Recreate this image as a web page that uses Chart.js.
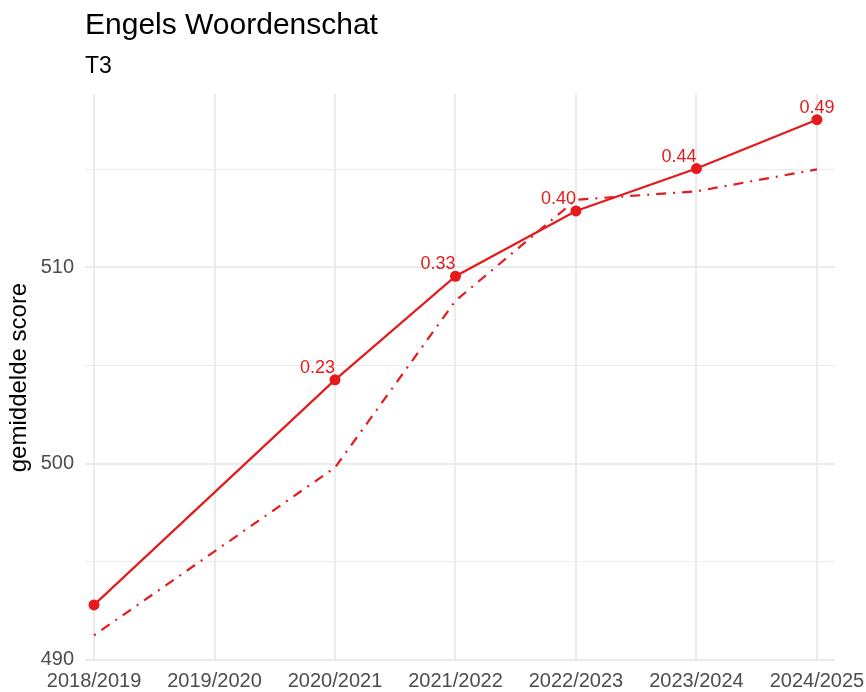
<!DOCTYPE html>
<html lang="nl">
<head>
<meta charset="utf-8">
<title>Engels Woordenschat</title>
<script src="https://cdn.jsdelivr.net/npm/chart.js@4"></script>
<style>
  html, body { margin: 0; padding: 0; background: #fff; }
  #wrap { position: relative; width: 866px; height: 692px; }
</style>
</head>
<body>
<div id="wrap"><canvas id="chart"></canvas></div>
<script>
const seasons = ["2018/2019", "2019/2020", "2020/2021", "2021/2022", "2022/2023", "2023/2024", "2024/2025"];
// gemiddelde score T3 (geen meting in 2019/2020)
const scoreT3 = [492.8, null, 504.27, 509.55, 512.88, 515.04, 517.53];
// referentielijn (streep-punt)
const referenceT3 = [491.25, null, 499.8, 508.3, 513.45, 513.88, 515.0];
const effectLabels = [null, null, "0.23", "0.33", "0.40", "0.44", "0.49"];
const yMajorTicks = [490, 500, 510];
const yMinorTicks = [495, 505, 515];

const RED = "#E41A1C";
const FONT = "'Liberation Sans', Arial, Helvetica, sans-serif";

const toPoints = (arr) => arr.map((v, i) => ({ x: i, y: v }));

// labels boven de punten, rechts uitgelijnd (laatste gecentreerd)
const pointLabels = {
  id: "pointLabels",
  afterDatasetsDraw(chart) {
    const meta = chart.getDatasetMeta(0);
    const ctx = chart.ctx;
    ctx.save();
    ctx.font = "18px " + FONT;
    ctx.fillStyle = RED;
    ctx.textBaseline = "alphabetic";
    meta.data.forEach((pt, i) => {
      const txt = effectLabels[i];
      if (!txt || scoreT3[i] == null) return;
      ctx.textAlign = i === effectLabels.length - 1 ? "center" : "right";
      ctx.fillText(txt, pt.x, pt.y - 7);
    });
    ctx.restore();
  },
};

new Chart(document.getElementById("chart"), {
  type: "line",
  data: {
    datasets: [
      {
        data: toPoints(scoreT3),
        borderColor: RED,
        backgroundColor: RED,
        borderWidth: 2.2,
        pointRadius: 5.5,
        pointHoverRadius: 5.5,
        pointBorderWidth: 0,
        spanGaps: true,
        tension: 0,
      },
      {
        data: toPoints(referenceT3),
        borderColor: RED,
        borderWidth: 2.2,
        borderDash: [2, 7, 10, 7],
        pointRadius: 0,
        spanGaps: true,
        tension: 0,
      },
    ],
  },
  options: {
    responsive: true,
    maintainAspectRatio: false,
    animation: false,
    devicePixelRatio: 1,
    layout: { padding: { left: 0, right: 31, top: 0, bottom: 0 }, autoPadding: false },
    plugins: {
      legend: { display: false },
      tooltip: { enabled: false },
      title: {
        display: true,
        text: "Engels Woordenschat",
        align: "start",
        fullSize: false,
        color: "#000",
        font: { family: FONT, size: 30, weight: "normal" },
        padding: { top: 8, bottom: 0 },
      },
      subtitle: {
        display: true,
        text: "T3",
        align: "start",
        fullSize: false,
        color: "#000",
        font: { family: FONT, size: 23, weight: "normal" },
        padding: { top: 9.2, bottom: 13.2 },
      },
    },
    scales: {
      x: {
        type: "linear",
        min: -0.075,
        max: 6.15,
        afterBuildTicks: (s) => { s.ticks = seasons.map((_, i) => ({ value: i })); },
        afterFit: (s) => { s.height = 31; s.paddingLeft = 0; s.paddingRight = 0; },
        ticks: {
          autoSkip: false,
          maxRotation: 0,
          padding: 8.5,
          color: "#4D4D4D",
          font: { family: FONT, size: 20 },
          callback: (v) => seasons[v],
        },
        grid: { color: "#EBEBEB", lineWidth: 2, drawTicks: false },
        border: { display: false },
      },
      y: {
        min: 489.94,
        max: 518.84,
        afterBuildTicks: (s) => {
          s.ticks = yMajorTicks.concat(yMinorTicks).sort((a, b) => a - b).map((v) => ({ value: v }));
        },
        afterFit: (s) => { s.width = 85; s.paddingTop = 0; s.paddingBottom = 0; },
        ticks: {
          padding: 11,
          color: "#4D4D4D",
          font: { family: FONT, size: 20 },
          callback: (v) => (yMajorTicks.includes(v) ? String(v) : ""),
        },
        grid: {
          color: "#EBEBEB",
          drawTicks: false,
          lineWidth: (c) => (c.tick && yMajorTicks.includes(c.tick.value) ? 2 : 1),
        },
        border: { display: false },
        title: {
          display: true,
          text: "gemiddelde score",
          color: "#000",
          font: { family: FONT, size: 24 },
          padding: { top: 5, bottom: 0 },
        },
      },
    },
  },
  plugins: [pointLabels],
});
</script>
</body>
</html>
